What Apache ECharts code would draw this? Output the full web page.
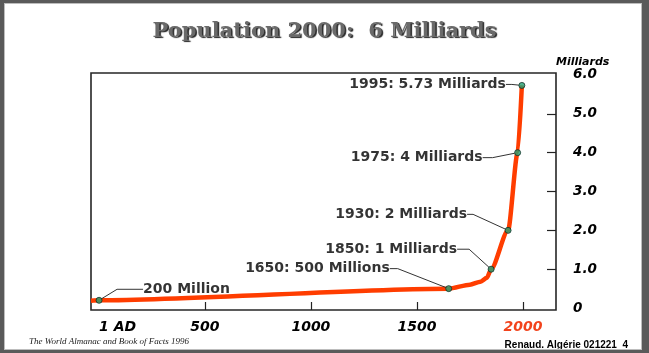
<!DOCTYPE html>
<html>
<head>
<meta charset="utf-8">
<script src="https://cdn.jsdelivr.net/npm/echarts@6/dist/echarts.min.js"></script>
<style>
  html, body { margin: 0; padding: 0; background: #fff; }
  #main { position: absolute; left: 0; top: 0; width: 649px; height: 353px; }
  #frame {
    position: absolute; left: 0; top: 0; width: 649px; height: 353px;
    box-sizing: border-box; pointer-events: none;
    border-style: solid; border-color: #5a5a5a; border-width: 3px 7px 3px 4px;
    box-shadow: inset 0 0 0 1px #bdbdbd;
  }
</style>
</head>
<body>
<div id="main"></div>
<div id="frame"></div>
<script>
// population curve (milliards)
let years = [-37, 1, 1650, 1750, 1800, 1830, 1850, 1930, 1975, 1995];
let population = [0.19, 0.2, 0.5, 0.6, 0.68, 0.78, 1.0, 2.0, 4.0, 5.73];

// annotated points
let noteYears = [1, 1650, 1850, 1930, 1975, 1995];
let notePopulation = [0.2, 0.5, 1.0, 2.0, 4.0, 5.73];
let noteText = ['200 Million', '1650: 500 Millions', '1850: 1 Milliards',
    '1930: 2 Milliards', '1975: 4 Milliards', '1995: 5.73 Milliards'];

let xTickValues = [1, 500, 1000, 1500, 2000];
let xTickLabels = ['1 AD', '500', '1000', '1500', '2000'];
let yTickValues = [0, 1, 2, 3, 4, 5, 6];
let yTickLabels = ['0', '1.0', '2.0', '3.0', '4.0', '5.0', '6.0'];

// label placement relative to its point: dx, dy, align, leader length, left gap
let noteLayout = [
    [34, -11, 'left', 26, 10],
    [-59, -20, 'right', 8, 0],
    [-34, -20, 'right', 12, 0],
    [-41, -16, 'right', 6, 0],
    [-35, 5, 'right', 10, 0],
    [-16, -1, 'right', 6, 0]
];

let curve = years.map((y, i) => [y, population[i]]);
let notes = noteYears.map((y, i) => ({
    value: [y, notePopulation[i]],
    label: { padding: [0, 0, 0, noteLayout[i][4]] },
    labelLine: { show: true, length2: noteLayout[i][3] }
}));

let chart = echarts.init(document.getElementById('main'));

const option = {
    animation: false,
    backgroundColor: '#fff',
    title: [
        {
            text: 'Population 2000:  6 Milliards',
            left: 'center',
            top: 16,
            textStyle: {
                fontFamily: 'DejaVu Serif',
                fontWeight: 'bold',
                fontSize: 21,
                color: '#6a6a6a',
                textShadowColor: '#262626',
                textShadowOffsetX: 1.5,
                textShadowOffsetY: 1.5,
                textShadowBlur: 1
            }
        },
        {
            text: 'The World Almanac and Book of Facts 1996',
            left: 29,
            top: 337,
            padding: 0,
            textStyle: {
                fontFamily: 'Liberation Serif',
                fontStyle: 'italic',
                fontWeight: 'normal',
                fontSize: 9,
                color: '#222'
            }
        },
        {
            text: 'Renaud. Algérie 021221  4',
            right: 21,
            top: 340,
            padding: 0,
            textStyle: {
                fontFamily: 'Liberation Sans',
                fontWeight: 'bold',
                fontSize: 10,
                color: '#000'
            }
        }
    ],
    grid: {
        left: 91,
        right: 93,
        top: 73,
        bottom: 43,
        show: true,
        borderColor: '#262626',
        borderWidth: 1.6
    },
    xAxis: {
        type: 'value',
        min: -37,
        max: 2156,
        axisLine: { show: false, onZero: false },
        splitLine: { show: false },
        axisTick: {
            show: true,
            inside: true,
            length: 8,
            customValues: xTickValues.slice(1),
            lineStyle: { color: '#222', width: 1.2 }
        },
        axisLabel: {
            customValues: xTickValues,
            margin: 10,
            fontFamily: 'DejaVu Sans',
            fontStyle: 'italic',
            fontWeight: 'bold',
            fontSize: 14,
            alignMinLabel: 'left',
            formatter: v => xTickLabels[xTickValues.indexOf(Number(v))],
            color: v => Number(v) === 2000 ? '#f2431c' : '#000'
        }
    },
    yAxis: {
        type: 'value',
        position: 'right',
        min: -0.05,
        max: 6.05,
        name: 'Milliards',
        nameLocation: 'end',
        nameGap: 10,
        nameTextStyle: {
            fontFamily: 'DejaVu Sans',
            fontStyle: 'italic',
            fontWeight: 'bold',
            fontSize: 11,
            color: '#000',
            align: 'left',
            verticalAlign: 'middle'
        },
        axisLine: { show: false, onZero: false },
        splitLine: { show: false },
        axisTick: {
            show: true,
            inside: true,
            length: 9,
            customValues: yTickValues.slice(1, 6),
            lineStyle: { color: '#222', width: 1.2 }
        },
        axisLabel: {
            customValues: yTickValues,
            margin: 17,
            fontFamily: 'DejaVu Sans',
            fontStyle: 'italic',
            fontWeight: 'bold',
            fontSize: 13.5,
            color: '#000',
            formatter: v => yTickLabels[yTickValues.indexOf(Number(v))]
        }
    },
    series: [
        {
            type: 'line',
            data: curve,
            smooth: 0.25,
            smoothMonotone: 'x',
            showSymbol: false,
            silent: true,
            lineStyle: { color: '#ff3d00', width: 4.5 },
            z: 2
        },
        {
            type: 'scatter',
            data: notes,
            symbolSize: 6,
            itemStyle: { color: '#22a374', borderColor: '#123026', borderWidth: 1 },
            z: 3,
            label: {
                show: true,
                formatter: p => noteText[p.dataIndex],
                fontFamily: 'DejaVu Sans',
                fontWeight: 'bold',
                fontSize: 14,
                color: '#000'
            },
            labelLine: {
                show: true,
                lineStyle: { color: '#333', width: 1 }
            },
            labelLayout: function (params) {
                let l = noteLayout[params.dataIndex];
                return {
                    x: params.rect.x + params.rect.width / 2 + l[0],
                    y: params.rect.y + params.rect.height / 2 + l[1],
                    align: l[2],
                    verticalAlign: 'middle'
                };
            }
        }
    ]
};

chart.setOption(option);
</script>
</body>
</html>
